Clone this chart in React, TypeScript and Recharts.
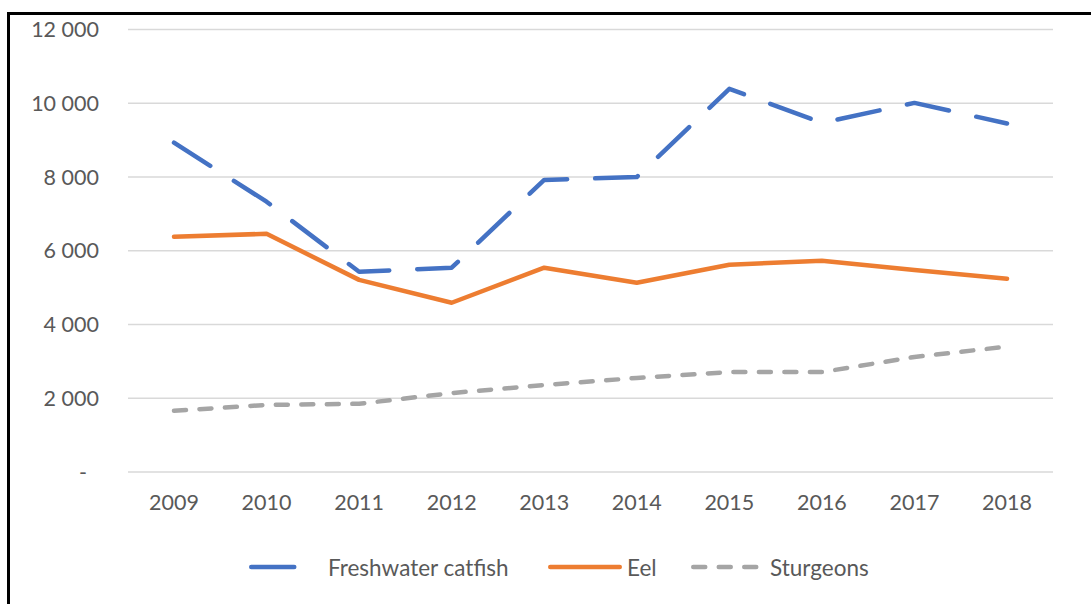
import { LineChart, Line, XAxis, YAxis, CartesianGrid } from "recharts";

const years = ["2009", "2010", "2011", "2012", "2013", "2014", "2015", "2016", "2017", "2018"];
const catfish = [8930, 7330, 5430, 5540, 7920, 8000, 10390, 9470, 10010, 9450];
const eel = [6380, 6460, 5210, 4590, 5540, 5130, 5620, 5730, 5480, 5240];
const sturgeons = [1660, 1820, 1850, 2140, 2360, 2550, 2710, 2710, 3120, 3400];
const yTicks = [0, 2000, 4000, 6000, 8000, 10000, 12000];

const FONT = "Lato, 'Noto Sans', sans-serif";
const TEXT = "#595959";
const TICK_SIZE = 21.5;

const series = [
  { key: "catfish", name: "Freshwater catfish", color: "#4472C4", dash: "43 28", left: 239 },
  { key: "eel", name: "Eel", color: "#ED7D31", dash: undefined, left: 538 },
  { key: "sturgeons", name: "Sturgeons", color: "#A5A5A5", dash: "12 13.5", left: 681 },
];

const data = years.map((year, i) => ({
  year,
  catfish: catfish[i],
  eel: eel[i],
  sturgeons: sturgeons[i],
}));

function fmt(v: number) {
  return String(v).replace(/\B(?=(\d{3})+(?!\d))/g, " ");
}

function YTick(props: any) {
  const { x, y, payload } = props;
  const zero = payload.value === 0;
  return (
    <text
      x={zero ? x - 12 : x}
      y={y}
      dy="0.355em"
      textAnchor="end"
      fill={TEXT}
      fontSize={TICK_SIZE}
      fontFamily={FONT}
    >
      {zero ? "-" : fmt(payload.value)}
    </text>
  );
}

export default function App() {
  return (
    <div
      style={{
        position: "absolute",
        left: 7,
        top: 12,
        width: 1081,
        height: 589,
        borderTop: "3px solid #000",
        borderLeft: "3px solid #000",
        background: "#fff",
      }}
    >
      <LineChart
        width={1081}
        height={589}
        data={data}
        margin={{ top: 14.5, right: 38, bottom: 92, left: 0 }}
      >
        <CartesianGrid vertical={false} stroke="#D9D9D9" strokeWidth={1.5} />
        <XAxis
          dataKey="year"
          padding={{ left: 46, right: 46 }}
          axisLine={false}
          tickLine={false}
          tickSize={0}
          tickMargin={23}
          height={40}
          tick={{ fill: TEXT, fontSize: TICK_SIZE, fontFamily: FONT }}
        />
        <YAxis
          domain={[0, 12000]}
          ticks={yTicks}
          width={118}
          axisLine={false}
          tickLine={false}
          tickSize={0}
          tickMargin={29}
          tick={<YTick />}
        />
        {series.map((s) => (
          <Line
            key={s.key}
            dataKey={s.key}
            name={s.name}
            stroke={s.color}
            strokeWidth={4.5}
            strokeDasharray={s.dash}
            strokeLinecap="round"
            strokeLinejoin="round"
            dot={false}
            activeDot={false}
            isAnimationActive={false}
          />
        ))}
      </LineChart>
      {series.map((s) => (
        <div
          key={s.key}
          style={{
            position: "absolute",
            left: s.left,
            top: 552 - 15,
            height: 30,
            display: "flex",
            alignItems: "center",
            fontFamily: FONT,
            fontSize: 22.5,
            color: TEXT,
            whiteSpace: "nowrap",
          }}
        >
          <svg width={74} height={10} style={{ marginRight: 5 }}>
            <line
              x1={2.25}
              y1={5}
              x2={71.75}
              y2={5}
              stroke={s.color}
              strokeWidth={4.5}
              strokeDasharray={s.dash}
              strokeLinecap="round"
            />
          </svg>
          {s.name}
        </div>
      ))}
    </div>
  );
}
